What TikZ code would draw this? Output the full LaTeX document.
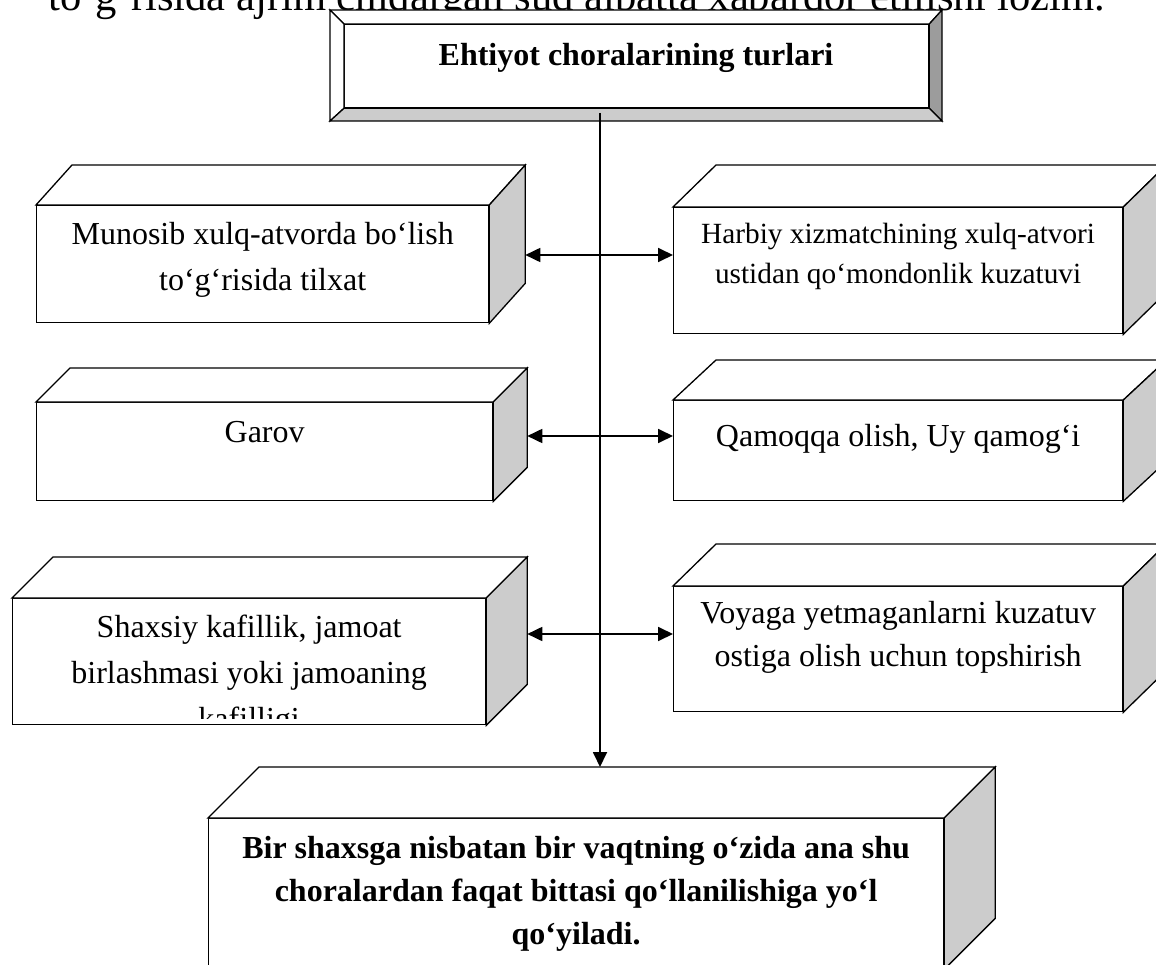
\documentclass[tikz,border=0pt]{standalone}
\usepackage{fontspec}
\setmainfont{Liberation Serif}
\usetikzlibrary{arrows.meta,calc}
\definecolor{sidegray}{HTML}{CCCCCC}
\definecolor{bevdark}{HTML}{9C9C9C}
\tikzset{
  front/.style={draw, fill=white, line width=1.3pt, rectangle, inner sep=0pt, anchor=north west},
  topface/.style={draw, fill=white, line width=1.3pt, line join=miter},
  sideface/.style={draw, fill=sidegray, line width=1.3pt, line join=miter},
  darkface/.style={draw, fill=bevdark, line width=1.3pt, line join=miter},
  conn/.style={line width=1.8pt},
  txt/.style={inner sep=0pt, anchor=base},
}
% top and right faces of a box whose front face is node #1, depth (#2,#3)
\newcommand\cuboid[3]{%
  \filldraw[topface] (#1.north west) -- ++(#2,-#3) -- ($(#1.north east)+(#2,-#3)$) -- (#1.north east) -- cycle;
  \filldraw[sideface] (#1.north east) -- ($(#1.north east)+(#2,-#3)$) -- ($(#1.south east)+(#2,-#3)$) -- (#1.south east) -- cycle;
}
\begin{document}
\begin{tikzpicture}[x=1pt, y=-1pt, >={Triangle[length=15pt,width=14pt]}]
\useasboundingbox (0,0) rectangle (1156,965);
\clip (0,0) rectangle (1156,965);
\fill[white] (0,0) rectangle (1156,965);

% running text of the page, partly hidden under the heading box
\node[txt, anchor=base west] (head) at (48,11)
  {\fontsize{42.6}{50}\selectfont to‘g‘risida ajrim chiqargan sud albatta xabardor etilishi lozim.};

% heading: bevelled box
\node[draw, fill=white, line width=1.3pt, minimum width=584pt, minimum height=83pt,
      anchor=north west, inner sep=0pt] (title) at (344,24) {};
\filldraw[topface] (330,10) -- (942,10) -- (title.north east) -- (title.north west) -- cycle;
\filldraw[topface] (330,10) -- (title.north west) -- (title.south west) -- (330,121) -- cycle;
\filldraw[darkface] (942,10) -- (942,121) -- (title.south east) -- (title.north east) -- cycle;
\filldraw[sideface] (330,121) -- (942,121) -- (title.south east) -- (title.south west) -- cycle;
\node[txt] (titletext) at (636,66) {\fontsize{32}{38}\selectfont\bfseries Ehtiyot choralarining turlari};

% left column
\node[front, minimum width=452pt, minimum height=117pt] (m1) at (36,205) {};
\cuboid{m1}{36}{40}
\node[txt] (m1t) at (m1.north |- 0,245)
  {\parbox[t]{440pt}{\centering\fontsize{32}{46}\selectfont Munosib xulq-atvorda bo‘lish\\to‘g‘risida tilxat}};

\node[front, minimum width=456pt, minimum height=98pt] (g) at (36,402) {};
\cuboid{g}{34}{34}
\node[txt] (gt) at (g.north |- 0,442) {\fontsize{32}{46}\selectfont Garov};

\node[front, minimum width=473pt, minimum height=126pt] (s) at (12,598) {};
\cuboid{s}{41}{41}
\begin{scope}
  \clip (12,598) rectangle (485,718);
  \node[txt] (st) at (s.north |- 0,637)
    {\parbox[t]{460pt}{\centering\fontsize{32}{46}\selectfont Shaxsiy kafillik, jamoat\\birlashmasi yoki jamoaning\\kafilligi}};
\end{scope}

% right column
\node[front, minimum width=449pt, minimum height=126pt] (h1) at (673,207) {};
\cuboid{h1}{43}{42}
\node[txt] (h1t) at (h1.north |- 0,244)
  {\parbox[t]{440pt}{\centering\fontsize{29.3}{40}\selectfont Harbiy xizmatchining xulq-atvori\\ustidan qo‘mondonlik kuzatuvi}};

\node[front, minimum width=449pt, minimum height=100pt] (q) at (673,400) {};
\cuboid{q}{43}{40}
\node[txt] (qt) at (q.north |- 0,446) {\fontsize{32}{46}\selectfont Qamoqqa olish, Uy qamog‘i};

\node[front, minimum width=449pt, minimum height=125pt] (v) at (673,586) {};
\cuboid{v}{43}{42}
\node[txt] (vt) at (v.north |- 0,623)
  {\parbox[t]{440pt}{\centering\fontsize{32}{43}\selectfont Voyaga yetmaganlarni kuzatuv\\ostiga olish uchun topshirish}};

% closing box
\node[front, minimum width=735pt, minimum height=150pt] (b) at (208,818) {};
\cuboid{b}{51}{51}
\node[txt] (bt) at (b.north |- 0,858)
  {\parbox[t]{720pt}{\centering\fontsize{32}{43}\selectfont\bfseries Bir shaxsga nisbatan bir vaqtning o‘zida ana shu\\choralardan faqat bittasi qo‘llanilishiga yo‘l\\qo‘yiladi.}};

% connectors
\coordinate (vtop) at (600,113);
\coordinate (bback) at ($(b.north west)+(51,-51)$);
\draw[conn,->] (vtop) -- (vtop |- bback);
\coordinate (a1) at ($(m1.east)+(36,0)$);
\draw[conn,<->] (a1 |- 0,255) -- (h1.west |- 0,255);
\coordinate (a2) at ($(g.east)+(34,0)$);
\draw[conn,<->] (a2 |- 0,436) -- (q.west |- 0,436);
\coordinate (a3) at ($(s.east)+(41,0)$);
\draw[conn,<->] (a3 |- 0,634) -- (v.west |- 0,634);
\end{tikzpicture}
\end{document}
